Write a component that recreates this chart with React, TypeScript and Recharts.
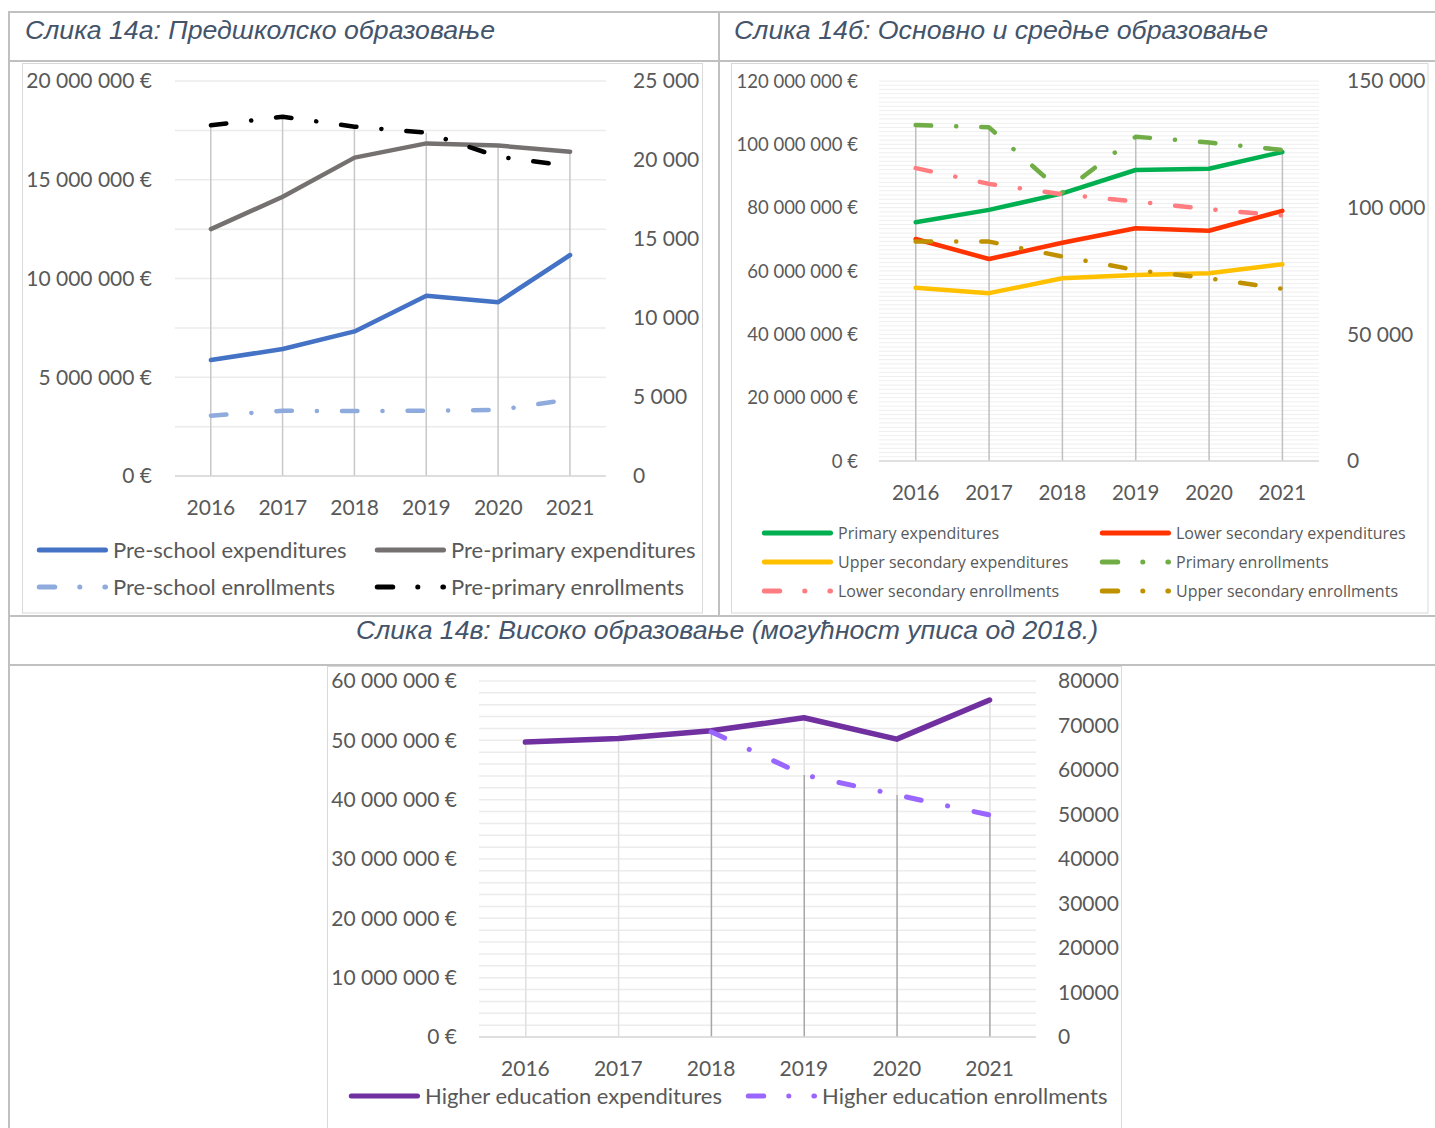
import React from 'react';
import { ComposedChart, Line, Bar, XAxis, YAxis, CartesianGrid } from 'recharts';

// ---------- shared categories ----------
const years = ['2016', '2017', '2018', '2019', '2020', '2021'];

// ---------- Слика 14а ----------
const preSchoolExpenditures = [5870000, 6430000, 7320000, 9130000, 8800000, 11190000];
const prePrimaryExpenditures = [12500000, 14140000, 16120000, 16840000, 16730000, 16420000];
const preSchoolEnrollments = [3820, 4130, 4110, 4130, 4180, 4850];
const prePrimaryEnrollments = [22200, 22740, 22110, 21730, 20210, 19620];
const leftLabelsA = [0, 5000000, 10000000, 15000000, 20000000];
const gridTicksA = [0, 2500000, 5000000, 7500000, 10000000, 12500000, 15000000, 17500000, 20000000];
const rightTicksA = [0, 5000, 10000, 15000, 20000, 25000];

// ---------- Слика 14б ----------
const primaryExpenditures = [75400000, 79300000, 84500000, 91900000, 92300000, 97600000];
const lowerSecondaryExpenditures = [70100000, 63800000, 68900000, 73500000, 72700000, 79000000];
const upperSecondaryExpenditures = [54700000, 53000000, 57700000, 58700000, 59300000, 62100000];
const primaryEnrollments = [132600, 131700, 106000, 128000, 125700, 122800];
const lowerSecondaryEnrollments = [115600, 109400, 105300, 102400, 99400, 96900];
const upperSecondaryEnrollments = [86600, 86600, 80700, 75400, 72100, 68000];
const leftLabelsB = [0, 20000000, 40000000, 60000000, 80000000, 100000000, 120000000];
const gridTicksB = Array.from({ length: 91 }, (_, i) => (i * 4000000) / 3);
const rightTicksB = [0, 50000, 100000, 150000];

// ---------- Слика 14в ----------
const higherExpenditures = [49700000, 50300000, 51600000, 53800000, 50200000, 56800000];
const higherEnrollments: (number | null)[] = [null, null, 68600, 58900, 54400, 49900];
const leftLabelsC = [0, 10000000, 20000000, 30000000, 40000000, 50000000, 60000000];
const gridTicksC = Array.from({ length: 31 }, (_, i) => i * 2000000);
const rightTicksC = [0, 10000, 20000, 30000, 40000, 50000, 60000, 70000, 80000];

const spaced = (v: number) => String(Math.round(v)).replace(/\B(?=(\d{3})+(?!\d))/g, ' ');
const euro = (v: number) => spaced(v) + ' €';

const DASH = '15.5 25 0.1 25';
const DASH_C = '15 27 0.1 27';
const TEXT = '#595959';

type Series = {
  key: string;
  name: string;
  color: string;
  axis: 'left' | 'right';
  values: (number | null)[];
  width: number;
  dash?: string;
};

type DropGroup = { id: string; keys: string[]; color: string };

const seriesA: Series[] = [
  { key: 'psExp', name: 'Pre-school expenditures', color: '#4472c4', axis: 'left', values: preSchoolExpenditures, width: 4.5 },
  { key: 'ppExp', name: 'Pre-primary expenditures', color: '#767171', axis: 'left', values: prePrimaryExpenditures, width: 4.5 },
  { key: 'psEnr', name: 'Pre-school enrollments', color: '#8faadc', axis: 'right', values: preSchoolEnrollments, width: 4.5, dash: DASH },
  { key: 'ppEnr', name: 'Pre-primary enrollments', color: '#000000', axis: 'right', values: prePrimaryEnrollments, width: 4.5, dash: DASH },
];

const seriesB: Series[] = [
  { key: 'pExp', name: 'Primary expenditures', color: '#00b050', axis: 'left', values: primaryExpenditures, width: 4.5 },
  { key: 'lsExp', name: 'Lower secondary expenditures', color: '#ff3300', axis: 'left', values: lowerSecondaryExpenditures, width: 4.5 },
  { key: 'usExp', name: 'Upper secondary expenditures', color: '#ffc000', axis: 'left', values: upperSecondaryExpenditures, width: 4.5 },
  { key: 'pEnr', name: 'Primary enrollments', color: '#70ad47', axis: 'right', values: primaryEnrollments, width: 4.5, dash: DASH },
  { key: 'lsEnr', name: 'Lower secondary enrollments', color: '#ff7c80', axis: 'right', values: lowerSecondaryEnrollments, width: 4.5, dash: DASH },
  { key: 'usEnr', name: 'Upper secondary enrollments', color: '#bf9000', axis: 'right', values: upperSecondaryEnrollments, width: 4.5, dash: DASH },
];

const seriesC: Series[] = [
  { key: 'hExp', name: 'Higher education expenditures', color: '#7030a0', axis: 'left', values: higherExpenditures, width: 5.5 },
  { key: 'hEnr', name: 'Higher education enrollments', color: '#9966ff', axis: 'right', values: higherEnrollments, width: 5, dash: DASH_C },
];

type ChartProps = {
  x: number; y: number; w: number; h: number;
  margin: { top: number; right: number; bottom: number; left: number };
  leftW: number; rightW: number;
  leftMax: number; rightMax: number;
  gridTicks: number[]; leftLabels: number[]; rightTicks: number[];
  rightFmt: (v: number) => string;
  leftGap: number; rightGap: number; xGap: number;
  leftFont: number; rightFont: number; xFont: number;
  series: Series[]; drops: DropGroup[];
  gridColor: string; gridWidth: number;
};

function EduChart(p: ChartProps) {
  const ratio = p.leftMax / p.rightMax;
  const data = years.map((year, i) => {
    const row: Record<string, any> = { year };
    p.series.forEach((s) => { row[s.key] = s.values[i]; });
    let base = 0;
    p.drops.forEach((g) => {
      const vals = g.keys.map((k) => {
        const s = p.series.find((x) => x.key === k)!;
        const v = s.values[i];
        if (v == null) return 0;
        return s.axis === 'right' ? v * ratio : v;
      });
      const top = Math.max(base, ...vals);
      row[g.id] = top - base;
      base = top;
    });
    return row;
  });
  const tickStyle = (fs: number) => ({ fill: TEXT, fontSize: fs, fontFamily: 'Lato' });
  return (
    <div style={{ position: 'absolute', left: p.x, top: p.y }}>
      <ComposedChart width={p.w} height={p.h} data={data} margin={p.margin}>
        <CartesianGrid vertical={false} yAxisId="left" stroke={p.gridColor} strokeWidth={p.gridWidth} />
        <XAxis dataKey="year" scale="band" interval={0} tickLine={false} tickSize={0} tickMargin={p.xGap}
          axisLine={{ stroke: '#d9d9d9', strokeWidth: 1.5 }} tick={tickStyle(p.xFont)} height={40} />
        <YAxis yAxisId="left" orientation="left" width={p.leftW} domain={[0, p.leftMax]} ticks={p.gridTicks}
          interval={0} axisLine={false} tickLine={false} tickSize={0} tickMargin={p.leftGap}
          tickFormatter={(v: number) => (p.leftLabels.includes(v) ? euro(v) : '')} tick={tickStyle(p.leftFont)} />
        <YAxis yAxisId="right" orientation="right" width={p.rightW} domain={[0, p.rightMax]} ticks={p.rightTicks}
          interval={0} axisLine={false} tickLine={false} tickSize={0} tickMargin={p.rightGap}
          tickFormatter={p.rightFmt} tick={tickStyle(p.rightFont)} />
        {p.drops.map((g) => (
          <Bar key={g.id} yAxisId="left" dataKey={g.id} stackId="drop" fill={g.color} barSize={1.5} isAnimationActive={false} />
        ))}
        {p.series.map((s) => (
          <Line key={s.key} yAxisId={s.axis} dataKey={s.key} name={s.name} type="linear" stroke={s.color}
            strokeWidth={s.width} strokeDasharray={s.dash} strokeLinecap="round" strokeLinejoin="round"
            dot={false} activeDot={false} isAnimationActive={false} connectNulls={false} />
        ))}
      </ComposedChart>
    </div>
  );
}

type LegendPos = { x: number; y: number };
function LegendItems({ series, pos, font, family }: { series: Series[]; pos: LegendPos[]; font: number; family: string }) {
  return (
    <g>
      {series.map((s, i) => (
        <g key={s.key}>
          <line x1={pos[i].x + 2.25} x2={pos[i].x + 68.5} y1={pos[i].y} y2={pos[i].y} stroke={s.color} strokeWidth={5}
            strokeLinecap="round" strokeDasharray={s.dash ? DASH : undefined} />
          <text x={pos[i].x + 76} y={pos[i].y} dy="0.35em" fontSize={font} fontFamily={family} fill={TEXT}>{s.name}</text>
        </g>
      ))}
    </g>
  );
}

const BORDER = '#c0c0c0';
const FRAME = '#d9d9d9';
const TITLE = '#44546a';

export default function App() {
  return (
    <div style={{ position: 'absolute', left: 0, top: 0, width: 1435, height: 1128, background: '#fff', overflow: 'hidden' }}>
      <EduChart
        x={22} y={63} w={681} h={550}
        margin={{ top: 18, right: 0, bottom: 97, left: 0 }}
        leftW={153} rightW={97}
        leftMax={20000000} rightMax={25000}
        gridTicks={gridTicksA} leftLabels={leftLabelsA} rightTicks={rightTicksA}
        rightFmt={spaced}
        leftGap={23} rightGap={27} xGap={24}
        leftFont={21} rightFont={21} xFont={21}
        series={seriesA}
        drops={[{ id: 'drop', keys: seriesA.map((s) => s.key), color: '#c8c8c8' }]}
        gridColor="#ebebeb" gridWidth={1.5}
      />
      <EduChart
        x={732} y={63} w={696} h={550}
        margin={{ top: 18, right: 0, bottom: 112, left: 0 }}
        leftW={147} rightW={109}
        leftMax={120000000} rightMax={150000}
        gridTicks={gridTicksB} leftLabels={leftLabelsB} rightTicks={rightTicksB}
        rightFmt={spaced}
        leftGap={21} rightGap={28} xGap={24}
        leftFont={18.5} rightFont={21} xFont={20.5}
        series={seriesB}
        drops={[{ id: 'drop', keys: seriesB.map((s) => s.key), color: '#c0c0c0' }]}
        gridColor="#efefef" gridWidth={1}
      />
      <EduChart
        x={327} y={666} w={795} h={462}
        margin={{ top: 15, right: 0, bottom: 51, left: 0 }}
        leftW={152} rightW={86}
        leftMax={60000000} rightMax={80000}
        gridTicks={gridTicksC} leftLabels={leftLabelsC} rightTicks={rightTicksC}
        rightFmt={(v: number) => String(v)}
        leftGap={22} rightGap={22} xGap={24}
        leftFont={21} rightFont={21} xFont={21}
        series={seriesC}
        drops={[
          { id: 'dropEnr', keys: ['hEnr'], color: '#a6a6a6' },
          { id: 'dropExp', keys: ['hExp'], color: '#e0e0e0' },
        ]}
        gridColor="#ececec" gridWidth={1.5}
      />
      <svg width={1435} height={1128} style={{ position: 'absolute', left: 0, top: 0, pointerEvents: 'none' }}>
        <rect x={8} y={11} width={1427} height={2} fill={BORDER} />
        <rect x={8} y={11} width={2} height={1117} fill={BORDER} />
        <rect x={8} y={60} width={1427} height={2} fill={BORDER} />
        <rect x={718} y={11} width={2} height={606} fill={BORDER} />
        <rect x={8} y={615} width={1427} height={2} fill={BORDER} />
        <rect x={8} y={664} width={1427} height={2} fill={BORDER} />
        <rect x={22.5} y={63.5} width={680} height={549.5} fill="none" stroke={FRAME} />
        <rect x={731.5} y={63.5} width={696.5} height={549.5} fill="none" stroke={FRAME} />
        <rect x={327.5} y={666.5} width={794} height={470} fill="none" stroke={FRAME} />
        <text x={25} y={39} fontFamily="Liberation Sans" fontStyle="italic" fontSize={26} fill={TITLE}
          textLength={470} lengthAdjust="spacingAndGlyphs">Слика 14а: Предшколско образовање</text>
        <text x={734} y={39} fontFamily="Liberation Sans" fontStyle="italic" fontSize={26} fill={TITLE}
          textLength={534} lengthAdjust="spacingAndGlyphs">Слика 14б: Основно и средње образовање</text>
        <text x={356} y={639} fontFamily="Liberation Sans" fontStyle="italic" fontSize={25} fill={TITLE}
          textLength={742} lengthAdjust="spacingAndGlyphs">Слика 14в: Високо образовање (могућност уписа од 2018.)</text>
        <LegendItems series={seriesA} font={22} family="Lato"
          pos={[{ x: 37, y: 550 }, { x: 375, y: 550 }, { x: 37, y: 587 }, { x: 375, y: 587 }]} />
        <LegendItems series={seriesB} font={16} family="Open Sans"
          pos={[{ x: 762, y: 533 }, { x: 1100, y: 533 }, { x: 762, y: 562 }, { x: 1100, y: 562 }, { x: 762, y: 591 }, { x: 1100, y: 591 }]} />
        <LegendItems series={seriesC} font={22} family="Lato"
          pos={[{ x: 349, y: 1096 }, { x: 746, y: 1096 }]} />
      </svg>
    </div>
  );
}
